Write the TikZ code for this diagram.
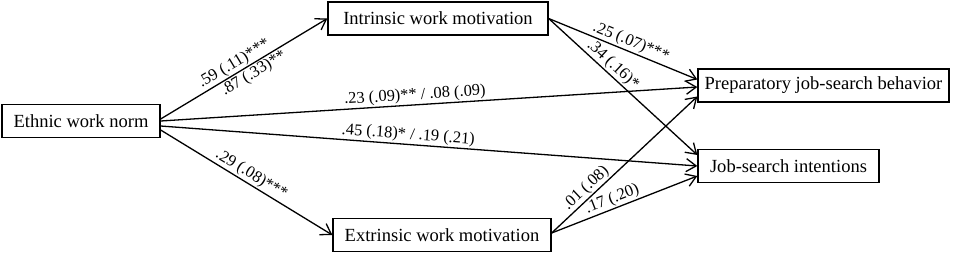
\documentclass[tikz,border=0pt]{standalone}
\usepackage{fontspec}
\setmainfont{Liberation Serif}
\usetikzlibrary{arrows.meta,calc}
\begin{document}
\begin{tikzpicture}[x=1bp,y=-1bp,
  box/.style={draw,line width=1.3bp,font=\fontsize{18.6}{20}\selectfont,inner sep=0pt,minimum height=33bp,anchor=center},
  conn/.style={line width=1.3bp,-{Straight Barb[length=10bp,width=13bp,line width=1.3bp]}},
  lab/.style={font=\fontsize{16.5}{18}\selectfont,sloped,inner sep=1.2bp}]
\useasboundingbox (0,0) rectangle (964,258);
\node[box,minimum width=158bp] (eth) at (81,121) {Ethnic work norm};
\node[box,minimum width=220bp] (intr) at (438,18.5) {Intrinsic work motivation};
\node[box,minimum width=218bp] (extr) at (442,235) {Extrinsic work motivation};
\node[box,minimum width=251bp] (prep) at (823.5,85.5) {Preparatory job-search behavior};
\node[box,minimum width=181bp] (job) at (788.5,166) {Job-search intentions};
\draw[conn] ($(eth.east)+(0,-2)$) -- (intr.west)
  node[lab,pos=0.47,above] {.59 (.11)***}
  node[lab,pos=0.53,below] {.87 (.33)**};
\draw[conn] ($(eth.east)+(0,0)$) -- ($(prep.west)+(0,1.5)$)
  node[lab,pos=0.475,above] {.23 (.09)** / .08 (.09)};
\draw[conn] ($(eth.east)+(0,5)$) -- ($(job.west)+(0,0)$)
  node[lab,pos=0.46,above] {.45 (.18)* / .19 (.21)};
\draw[conn] ($(eth.east)+(0,9)$) -- (extr.west)
  node[lab,pos=0.5,above] {.29 (.08)***};
\draw[conn] (intr.east) -- ($(prep.west)+(0,-6)$)
  node[lab,pos=0.53,above] {.25 (.07)***};
\draw[conn] (intr.east) -- ($(job.west)+(0,-11)$)
  node[lab,pos=0.39,above] {.34 (.16)*};
\draw[conn] ($(extr.east)+(0,-2)$) -- ($(prep.west)+(0,11)$)
  node[lab,pos=0.28,above] {.01 (.08)};
\draw[conn] ($(extr.east)+(0,-2)$) -- ($(job.west)+(0,10)$)
  node[lab,pos=0.44,above] {.17 (.20)};
\end{tikzpicture}
\end{document}
